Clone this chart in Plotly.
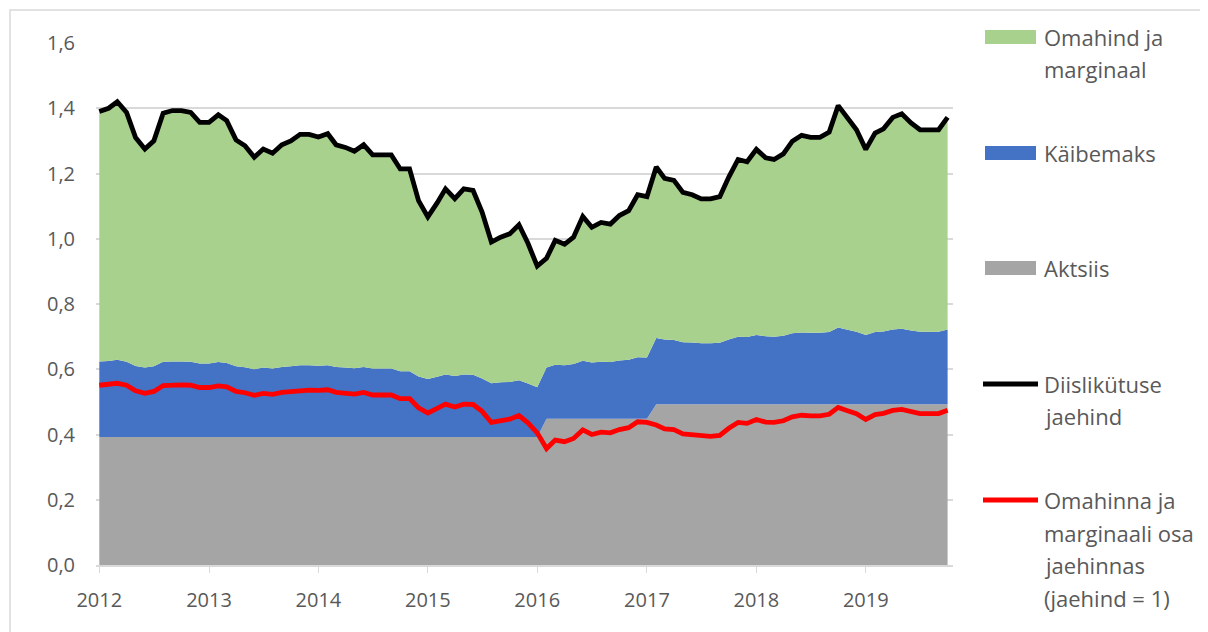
import plotly.graph_objects as go
import pandas as pd

# Monthly observations, Jan 2012 .. Oct 2019
months = pd.date_range("2012-01-01", periods=94, freq="MS")

# Diesel retail price (EUR/l)
retail_price = [
    1.390, 1.400, 1.420, 1.387, 1.310, 1.275, 1.300, 1.385, 1.393, 1.393, 1.387, 1.357,
    1.357, 1.380, 1.362, 1.303, 1.285, 1.250, 1.275, 1.262, 1.288, 1.300, 1.320, 1.320,
    1.312, 1.322, 1.288, 1.280, 1.268, 1.288, 1.257, 1.257, 1.257, 1.214, 1.214, 1.117,
    1.067, 1.110, 1.153, 1.123, 1.153, 1.148, 1.082, 0.990, 1.005, 1.015, 1.043, 0.986,
    0.916, 0.940, 0.995, 0.983, 1.005, 1.068, 1.035, 1.050, 1.045, 1.071, 1.086, 1.135,
    1.129, 1.220, 1.185, 1.179, 1.142, 1.135, 1.122, 1.122, 1.129, 1.189, 1.243, 1.236,
    1.274, 1.248, 1.243, 1.260, 1.299, 1.317, 1.311, 1.311, 1.327, 1.408, 1.368, 1.334,
    1.274, 1.324, 1.337, 1.372, 1.383, 1.355, 1.334, 1.334, 1.334, 1.372,
]

# Excise duty (Aktsiis)
excise = [
    0.392, 0.392, 0.392, 0.392, 0.392, 0.392, 0.392, 0.392, 0.392, 0.392, 0.392, 0.392,
    0.392, 0.392, 0.392, 0.392, 0.392, 0.392, 0.392, 0.392, 0.392, 0.392, 0.392, 0.392,
    0.392, 0.392, 0.392, 0.392, 0.392, 0.392, 0.392, 0.392, 0.392, 0.392, 0.392, 0.392,
    0.392, 0.392, 0.392, 0.392, 0.392, 0.392, 0.392, 0.392, 0.392, 0.392, 0.392, 0.392,
    0.392, 0.448, 0.448, 0.448, 0.448, 0.448, 0.448, 0.448, 0.448, 0.448, 0.448, 0.448,
    0.448, 0.493, 0.493, 0.493, 0.493, 0.493, 0.493, 0.493, 0.493, 0.493, 0.493, 0.493,
    0.493, 0.493, 0.493, 0.493, 0.493, 0.493, 0.493, 0.493, 0.493, 0.493, 0.493, 0.493,
    0.493, 0.493, 0.493, 0.493, 0.493, 0.493, 0.493, 0.493, 0.493, 0.493,
]

# VAT (Käibemaks)
vat = [
    0.232, 0.233, 0.237, 0.231, 0.218, 0.213, 0.217, 0.231, 0.232, 0.232, 0.231, 0.226,
    0.226, 0.230, 0.227, 0.217, 0.214, 0.208, 0.213, 0.210, 0.215, 0.217, 0.220, 0.220,
    0.219, 0.220, 0.215, 0.213, 0.211, 0.215, 0.210, 0.210, 0.210, 0.202, 0.202, 0.186,
    0.178, 0.185, 0.192, 0.187, 0.192, 0.191, 0.180, 0.165, 0.168, 0.169, 0.174, 0.164,
    0.153, 0.157, 0.166, 0.164, 0.168, 0.178, 0.173, 0.175, 0.174, 0.179, 0.181, 0.189,
    0.188, 0.203, 0.198, 0.197, 0.190, 0.189, 0.187, 0.187, 0.188, 0.198, 0.207, 0.206,
    0.212, 0.208, 0.207, 0.210, 0.217, 0.220, 0.219, 0.219, 0.221, 0.235, 0.228, 0.222,
    0.212, 0.221, 0.223, 0.229, 0.231, 0.226, 0.222, 0.222, 0.222, 0.229,
]

# Cost price and margin (Omahind ja marginaal)
cost_margin = [
    0.766, 0.775, 0.791, 0.764, 0.700, 0.670, 0.691, 0.762, 0.769, 0.769, 0.764, 0.739,
    0.739, 0.758, 0.743, 0.694, 0.679, 0.650, 0.670, 0.660, 0.681, 0.691, 0.708, 0.708,
    0.701, 0.710, 0.681, 0.675, 0.665, 0.681, 0.655, 0.655, 0.655, 0.620, 0.620, 0.539,
    0.497, 0.533, 0.569, 0.544, 0.569, 0.565, 0.510, 0.433, 0.445, 0.454, 0.477, 0.430,
    0.371, 0.335, 0.381, 0.371, 0.389, 0.442, 0.414, 0.427, 0.423, 0.444, 0.457, 0.498,
    0.493, 0.524, 0.494, 0.489, 0.459, 0.453, 0.442, 0.442, 0.448, 0.498, 0.543, 0.537,
    0.569, 0.547, 0.543, 0.557, 0.589, 0.604, 0.599, 0.599, 0.613, 0.680, 0.647, 0.619,
    0.569, 0.610, 0.621, 0.650, 0.659, 0.636, 0.619, 0.619, 0.619, 0.650,
]

# Share of cost price and margin in retail price (retail price = 1)
cost_share = [
    0.551, 0.553, 0.557, 0.551, 0.534, 0.526, 0.532, 0.550, 0.552, 0.552, 0.551, 0.544,
    0.544, 0.549, 0.546, 0.532, 0.528, 0.520, 0.526, 0.523, 0.529, 0.532, 0.536, 0.536,
    0.535, 0.537, 0.529, 0.527, 0.524, 0.529, 0.521, 0.521, 0.521, 0.510, 0.510, 0.482,
    0.466, 0.480, 0.493, 0.484, 0.493, 0.492, 0.471, 0.437, 0.443, 0.447, 0.458, 0.436,
    0.405, 0.357, 0.383, 0.378, 0.388, 0.414, 0.400, 0.407, 0.405, 0.415, 0.421, 0.439,
    0.437, 0.429, 0.417, 0.415, 0.402, 0.399, 0.394, 0.394, 0.397, 0.419, 0.437, 0.434,
    0.446, 0.438, 0.437, 0.442, 0.454, 0.459, 0.457, 0.457, 0.462, 0.483, 0.473, 0.464,
    0.446, 0.461, 0.465, 0.474, 0.477, 0.470, 0.464, 0.464, 0.464, 0.474,
]

year_ticks = ["2012", "2013", "2014", "2015", "2016", "2017", "2018", "2019"]

series_names = {
    "cost": ["Omahind ja", "marginaal"],
    "vat": ["Käibemaks"],
    "excise": ["Aktsiis"],
    "price": ["Diislikütuse", "jaehind"],
    "share": ["Omahinna ja", "marginaali osa", "jaehinnas", "(jaehind = 1)"],
}
series_colors = {
    "cost": "#A9D18E", "vat": "#4472C4", "excise": "#A5A5A5",
    "price": "#000000", "share": "#FF0000",
}

TXT = "#595959"
GRID = "#D9D9D9"
W, H = 1208, 632
OFF = 8  # page body margin of the exported html
# plot area in page pixels: x 96..953, y 43..565
ML, MT = 96 - OFF, 43 - OFF
MR, MB = W - (953 - OFF), H - (565 - OFF)
PW, PH = W - ML - MR, H - MT - MB


def px_x(px):
    return (px - OFF - ML) / PW


def px_y(py):
    return (H - MB - (py - OFF)) / PH


fig = go.Figure()
fig.add_trace(go.Scatter(x=months, y=excise, name=" ".join(series_names["excise"]),
                         stackgroup="s", mode="none", fillcolor=series_colors["excise"]))
fig.add_trace(go.Scatter(x=months, y=vat, name=" ".join(series_names["vat"]),
                         stackgroup="s", mode="none", fillcolor=series_colors["vat"]))
fig.add_trace(go.Scatter(x=months, y=cost_margin, name=" ".join(series_names["cost"]),
                         stackgroup="s", mode="none", fillcolor=series_colors["cost"]))
fig.add_trace(go.Scatter(x=months, y=retail_price, name=" ".join(series_names["price"]),
                         mode="lines", line=dict(color=series_colors["price"], width=4.8)))
fig.add_trace(go.Scatter(x=months, y=cost_share, name=" ".join(series_names["share"]),
                         mode="lines", line=dict(color=series_colors["share"], width=4.8)))

# Hand-built legend (swatches + text) on the right
shapes = [dict(type="rect", xref="paper", yref="paper",
               x0=px_x(10), x1=px_x(1230), y0=px_y(650), y1=px_y(10),
               line=dict(color=GRID, width=1.5), layer="below")]
annotations = []
legend_rows = [("cost", "box", 37), ("vat", "box", 153), ("excise", "box", 268),
               ("price", "line", 384), ("share", "line", 500)]
LINE_STEP = 32.5
for key, kind, yc in legend_rows:
    col = series_colors[key]
    if kind == "box":
        shapes.append(dict(type="rect", xref="paper", yref="paper",
                           x0=px_x(985), x1=px_x(1036), y0=px_y(yc + 7), y1=px_y(yc - 7),
                           fillcolor=col, line=dict(width=0)))
    else:
        shapes.append(dict(type="line", xref="paper", yref="paper",
                           x0=px_x(983), x1=px_x(1038), y0=px_y(yc), y1=px_y(yc),
                           line=dict(color=col, width=5)))
    for k, txt in enumerate(series_names[key]):
        annotations.append(dict(xref="paper", yref="paper", x=px_x(1042),
                                y=px_y(yc + k * LINE_STEP), xanchor="left", yanchor="middle",
                                text=txt, showarrow=False,
                                font=dict(size=22, color=TXT, family="Open Sans")))

fig.update_layout(
    width=W, height=H,
    margin=dict(l=ML, r=MR, t=MT, b=MB),
    paper_bgcolor="white", plot_bgcolor="white",
    separators=", ",
    font=dict(family="Open Sans", color=TXT, size=20),
    showlegend=False,
    xaxis=dict(type="date",
               range=["2011-12-21", "2019-10-19"],
               tickvals=[y + "-01-01" for y in year_ticks], ticktext=year_ticks,
               showgrid=False, showline=True, linecolor=GRID, linewidth=1.5,
               ticks="outside", ticklen=6, tickcolor=GRID,
               ticklabelstandoff=10,
               tickfont=dict(size=20, color=TXT), zeroline=False, automargin=False),
    yaxis=dict(range=[0, 1.6], dtick=0.2, tick0=0, tickformat=".1f",
               showgrid=True, gridcolor=GRID, gridwidth=1.5,
               showline=False, zeroline=False, ticks="",
               ticklabelstandoff=20, automargin=False,
               tickfont=dict(size=20, color=TXT)),
    shapes=shapes,
    annotations=annotations,
)

fig.write_html("out.html")
